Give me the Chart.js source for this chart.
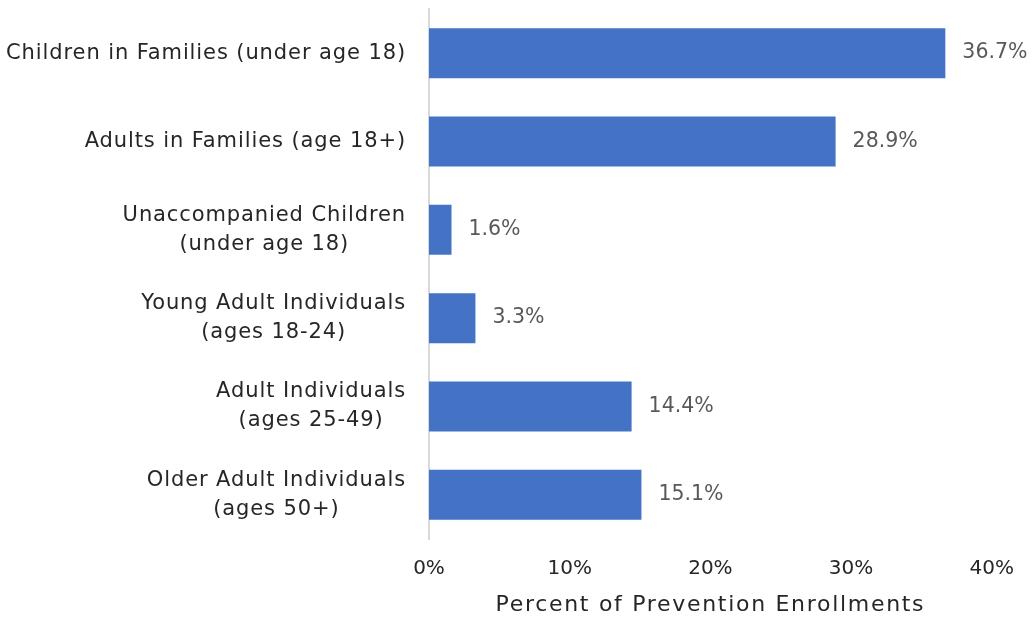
<!DOCTYPE html>
<html>
<head>
<meta charset="utf-8">
<script src="https://cdn.jsdelivr.net/npm/chart.js@4/dist/chart.umd.min.js"></script>
<style>
  html, body { margin: 0; padding: 0; background: #fff; }
  #wrap { width: 1032px; height: 618px; }
</style>
</head>
<body>
<div id="wrap"><canvas id="grafico"></canvas></div>
<script>
const categorias = [
    ['Children in Families (under age 18)'],
    ['Adults in Families (age 18+)'],
    ['Unaccompanied Children', '(under age 18)'],
    ['Young Adult Individuals', '(ages 18-24)'],
    ['Adult Individuals', '(ages 25-49)'],
    ['Older Adult Individuals', '(ages 50+)']
]
const porcentajes = [36.7, 28.9, 1.6, 3.3, 14.4, 15.1]
const ticksX = [0, 10, 20, 30, 40]
const tituloX = 'Percent of Prevention Enrollments'

const fuente = "'DejaVu Sans', sans-serif"

// etiquetas del eje y: bloque alineado a la derecha, lineas centradas
const etiquetasY = {
    id: 'etiquetasY',
    afterDraw(chart) {
        const ctx = chart.ctx
        const y = chart.scales.y
        ctx.save()
        ctx.font = '21px ' + fuente
        ctx.letterSpacing = '0.9px'
        ctx.fillStyle = '#262626'
        ctx.textAlign = 'center'
        ctx.textBaseline = 'middle'
        const borde = chart.chartArea.left - 23
        const alto = 29
        categorias.forEach((lineas, i) => {
            const ancho = Math.max(...lineas.map(l => ctx.measureText(l).width))
            const cx = borde - ancho / 2
            const cy = y.getPixelForValue(i)
            lineas.forEach((l, j) => {
                ctx.fillText(l, cx, cy + (j - (lineas.length - 1) / 2) * alto)
            })
        })
        // titulo del eje x
        ctx.font = '22px ' + fuente
        ctx.letterSpacing = '1.7px'
        const area = chart.chartArea
        ctx.fillText(tituloX, (area.left + area.right) / 2, 605)
        ctx.restore()
    }
}

// valores al final de cada barra
const valores = {
    id: 'valores',
    afterDatasetsDraw(chart) {
        const ctx = chart.ctx
        ctx.save()
        ctx.font = '20.5px ' + fuente
        ctx.fillStyle = '#595959'
        ctx.textAlign = 'left'
        ctx.textBaseline = 'middle'
        chart.getDatasetMeta(0).data.forEach((barra, i) => {
            ctx.fillText(porcentajes[i].toFixed(1) + '%', barra.x + 17, barra.y)
        })
        ctx.restore()
    }
}

new Chart(document.getElementById('grafico'), {
    type: 'bar',
    data: {
        labels: categorias,
        datasets: [
            {
                label: tituloX,
                data: porcentajes,
                backgroundColor: '#4472c4',
                borderWidth: 0,
                barPercentage: 0.566,
                categoryPercentage: 1
            }
        ]
    },
    options: {
        indexAxis: 'y',
        responsive: true,
        maintainAspectRatio: false,
        animation: false,
        layout: {
            padding: { top: 9, right: 40, bottom: 0, left: 0 }
        },
        plugins: {
            legend: { display: false },
            tooltip: { enabled: false }
        },
        scales: {
            x: {
                min: 0,
                max: 40,
                afterBuildTicks: scale => { scale.ticks = ticksX.map(v => ({ value: v })) },
                grid: { display: false, drawTicks: false },
                border: { display: false },
                ticks: {
                    padding: 18,
                    color: '#262626',
                    font: { family: fuente, size: 20 },
                    callback: v => v + '%'
                },
                afterFit: scale => { scale.height = 79 }
            },
            y: {
                grid: { display: false, drawTicks: false },
                border: { display: true, color: '#d9d9d9', width: 2 },
                ticks: { display: false },
                afterFit: scale => { scale.width = 429 }
            }
        }
    },
    plugins: [etiquetasY, valores]
})
</script>
</body>
</html>
